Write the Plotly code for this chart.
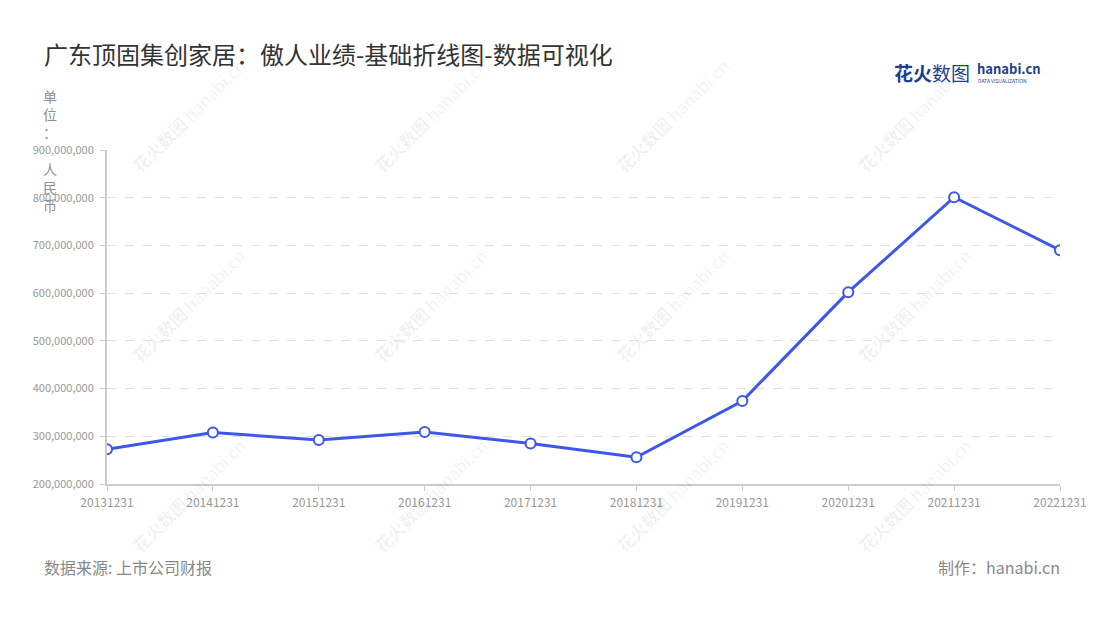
import plotly.graph_objects as go

# --- data ---
DATES = ['20131231', '20141231', '20151231', '20161231', '20171231',
         '20181231', '20191231', '20201231', '20211231', '20221231']
REVENUE = [273e6, 308e6, 292e6, 309e6, 285e6, 256e6, 374e6, 602e6, 801e6, 690e6]
Y_TICKS = [200e6, 300e6, 400e6, 500e6, 600e6, 700e6, 800e6, 900e6]

TITLE = "广东顶固集创家居：傲人业绩-基础折线图-数据可视化"
UNIT = "单位： 人民币"
SOURCE = "数据来源: 上市公司财报"
MAKER = "制作：hanabi.cn"

FONT = "Noto Sans CJK SC, Noto Sans, sans-serif"
LINE_BLUE = '#3d57e8'
AXIS_GREY = '#cccccc'
TEXT_GREY = '#999999'

# plot area in page pixels (the page adds an 8px body offset)
PLOT_L, PLOT_R, PLOT_T, PLOT_B = 107, 1060, 150, 484
OFFSET = 8

fig = go.Figure()

fig.add_trace(go.Scatter(
    x=DATES,
    y=REVENUE,
    mode='lines+markers',
    line=dict(color=LINE_BLUE, width=3),
    marker=dict(size=10, color='white', line=dict(color=LINE_BLUE, width=2)),
    showlegend=False,
    hoverinfo='skip',
))

fig.update_xaxes(
    type='category',
    range=[0, len(DATES) - 1],
    showline=True, linecolor=AXIS_GREY, linewidth=2,
    ticks='outside', ticklen=5, tickcolor=AXIS_GREY, tickwidth=1,
    showgrid=False, zeroline=False,
    ticklabelstandoff=2,
    tickfont=dict(size=12, color=TEXT_GREY, family=FONT),
)

fig.update_yaxes(
    range=[Y_TICKS[0], Y_TICKS[-1]],
    tickvals=Y_TICKS,
    tickformat=',',
    showline=True, linecolor=AXIS_GREY, linewidth=2,
    ticks='outside', ticklen=5, tickcolor=AXIS_GREY, tickwidth=1,
    showgrid=True, gridcolor='#e0e0e0', gridwidth=1, griddash='dash',
    zeroline=False,
    ticklabelstandoff=4,
    tickfont=dict(size=11, color=TEXT_GREY, family=FONT),
)


# paper-coordinate helpers for page pixel positions
def px_x(x):
    return (x - PLOT_L) / (PLOT_R - PLOT_L)


def px_y(y):
    return (PLOT_B - y) / (PLOT_B - PLOT_T)


annotations = []

# watermark grid (faint, rotated)
for wy in [115, 305, 495]:
    for wx in [188, 430, 672, 914]:
        annotations.append(dict(
            text="<b>花火数图</b> hanabi.cn",
            x=px_x(wx), y=px_y(wy), xref='paper', yref='paper',
            xanchor='center', yanchor='middle',
            showarrow=False, textangle=-45,
            font=dict(size=17, color='rgba(0,0,0,0.06)', family=FONT),
        ))

annotations += [
    dict(text=TITLE, x=px_x(42), y=px_y(54), xref='paper', yref='paper',
         xanchor='left', yanchor='middle', showarrow=False,
         font=dict(size=24, color='#333333', family=FONT)),
    dict(text="<br>".join(list(UNIT)), x=px_x(50), y=px_y(84), xref='paper', yref='paper',
         xanchor='center', yanchor='top', showarrow=False, align='center',
         font=dict(size=14, color='#8f8f9f', family=FONT)),
    dict(text=SOURCE, x=px_x(42), y=px_y(567), xref='paper', yref='paper',
         xanchor='left', yanchor='middle', showarrow=False,
         font=dict(size=16, color='#888888', family=FONT)),
    dict(text=MAKER, x=px_x(1062), y=px_y(567), xref='paper', yref='paper',
         xanchor='right', yanchor='middle', showarrow=False,
         font=dict(size=16, color='#888888', family=FONT)),
    # logo
    dict(text="<b>花火</b>数图", x=px_x(892), y=px_y(72), xref='paper', yref='paper',
         xanchor='left', yanchor='middle', showarrow=False,
         font=dict(size=19, color='#1d3f8f', family=FONT)),
    dict(text="<b>hanabi.cn</b>", x=px_x(975), y=px_y(69), xref='paper', yref='paper',
         xanchor='left', yanchor='middle', showarrow=False,
         font=dict(size=13, color='#1d3f8f', family=FONT)),
    dict(text="DATA VISUALIZATION", x=px_x(976), y=px_y(80), xref='paper', yref='paper',
         xanchor='left', yanchor='middle', showarrow=False,
         font=dict(size=5, color='#1d3f8f', family=FONT)),
]

fig.update_layout(
    width=1100, height=620,
    margin=dict(l=PLOT_L - OFFSET, r=1100 - PLOT_R + OFFSET,
                t=PLOT_T - OFFSET, b=620 - PLOT_B + OFFSET),
    paper_bgcolor='white', plot_bgcolor='white',
    font=dict(family=FONT, color=TEXT_GREY),
    annotations=annotations,
    hovermode=False,
)

fig.write_html("out.html")
